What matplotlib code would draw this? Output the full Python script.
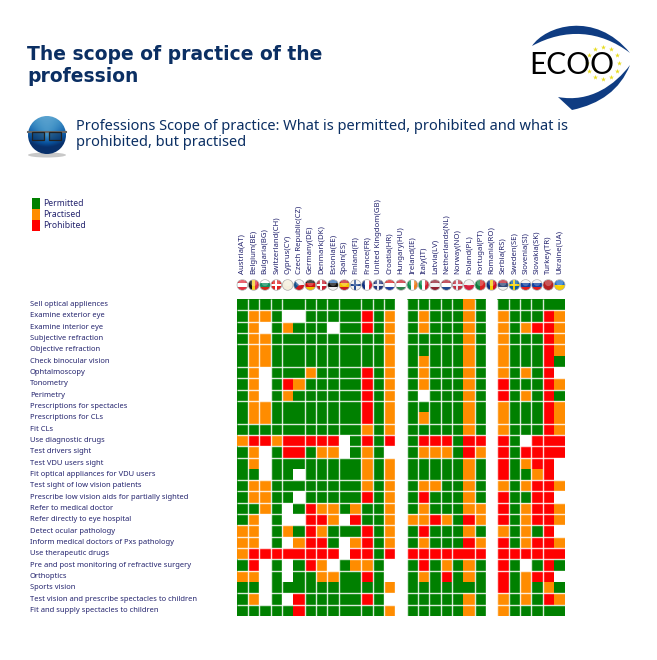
import numpy as np
import matplotlib
matplotlib.use("Agg")
import matplotlib.pyplot as plt
from matplotlib.colors import ListedColormap
from matplotlib.patches import Circle, Ellipse, Rectangle, Patch, PathPatch, Polygon
from matplotlib.path import Path

# text and values
title_lines = ["The scope of practice of the", "profession"]
subtitle_lines = ["Professions Scope of practice: What is permitted, prohibited and what is",
                  "prohibited, but practised"]
status_names = ["Permitted", "Practised", "Prohibited"]
status_colors = ["#008000", "#FF8C00", "#FF0000"]

countries = ["Austria(AT)", "Belgium(BE)", "Bulgaria(BG)", "Switzerland(CH)", "Cyprus(CY)",
             "Czech Republic(CZ)", "Germany(DE)", "Denmark(DK)", "Estonia(EE)", "Spain(ES)",
             "Finland(FI)", "France(FR)", "United Kingdom(GB)", "Croatia(HR)", "Hungary(HU)",
             "Ireland(IE)", "Italy(IT)", "Latvia(LV)", "Netherlands(NL)", "Norway(NO)",
             "Poland(PL)", "Portugal(PT)", "Romania(RO)", "Serbia(RS)", "Sweden(SE)",
             "Slovenia(SI)", "Slovakia(SK)", "Turkey(TR)", "Ukraine(UA)"]

tasks = ["Sell optical appliences", "Examine exterior eye", "Examine interior eye",
         "Subjective refraction", "Objective refraction", "Check binocular vision",
         "Ophtalmoscopy", "Tonometry", "Perimetry", "Prescriptions for spectacles",
         "Prescriptions for CLs", "Fit CLs", "Use diagnostic drugs", "Test drivers sight",
         "Test VDU users sight", "Fit optical appliances for VDU users",
         "Test sight of low vision patients", "Prescribe low vision aids for partially sighted",
         "Refer to medical doctor", "Refer directly to eye hospital", "Detect ocular pathology",
         "Inform medical doctors of Pxs pathology", "Use therapeutic drugs",
         "Pre and post monitoring of refractive surgery", "Orthoptics", "Sports vision",
         "Test vision and prescribe spectacles to children", "Fit and supply spectacles to children"]

# G permitted, O practised, R prohibited, . no answer; one string per task, one letter per country
scope_rows = ["GGGGGGGGGGGGGG.GGGGGOG.GGGGGG",
              "GOOG..GGGGGRGO.GOGGGOG.OGGGRO",
              "GO.GOGGG.GGRGO.GOGGGOG.OGORRO",
              "GOOGGGGGGGGGGO.GGGGGOG.OGGGRO",
              "GOOGGGGGGGGGGO.GGGGGOG.OGGGRO",
              "GOOGGGGGGGGGGO.GOGGGOG.OGGGRG",
              "GO.GGGOGGGGRGO.GOGGGOG.OGOGR.",
              "GO.GROGGGGGRGO.GOGGGOG.RGGGRO",
              "GO.GOGGGGGGRGO.G.GGGOG.RGOGRG",
              "GOOGGGGGGGGRGO.GGGGGOG.OGGGRO",
              "GOOGGGGGGGGRGO.GOGGGOG.OGGGRO",
              "GGGGGGGGGGGOGO.GGGGGOG.OGGGRO",
              "ORRORRRRR.GRGR.GRRRGRR.RG.RRR",
              "GO.GRRGOO.GOG..GOOOGRO.RGRRRR",
              "GO.GGGGGGGGOGO.GGGGGOG.RGORR.",
              "GG.GG.GGGGGOGO.GGGGGOG.RGGOR.",
              "GOOGGGGGGGGOGO.GOOGGOG.OGORRO",
              "GOOGG.GGGGGRGO.GRGGGOG.RGGRR.",
              "GGOG.GROOGOGGO.GOGGGOO.RGORRO",
              "GO.G..RRO.RGGO.OOROGRO.RGORRO",
              "OO.GOGROGGGRGO.GRGGGOG.OGOGR.",
              "OO.G.ORRG.ORGO.GOGGGRO.RGORRO",
              "ORRRRRRRR.RRGR.RRRRRRR.RRRRRR",
              "GR.G.GRO.GOOG..GRGOGOG.RG.GRG",
              "OO.G.GGOOGGRG..GOGRGOG.RGORR.",
              "GG.GGGGGGGGGGO.GGGGGGG.RGOGOG",
              "GO.G.RGGGGGRG..GGGGGOG.OGOGRO",
              "GGGGGRGGGGGGGO.GGGGGOG.OGGGGG"]

# flags: stripe direction, stripe colours, cross colour
flag_dirs = "hvhhhhhhhhhvhhhvvhhhhvvhhhhhh"
flag_stripes = [["#E03040", "#FFFFFF", "#E03040"], ["#111111", "#F5D020", "#E03040"],
                ["#FFFFFF", "#109060", "#D02818"], ["#E02020"], ["#F4EEDC"],
                ["#F0F0F0", "#D01820"], ["#111111", "#D01010", "#F0C000"], ["#C82030"],
                ["#3070B8", "#111111", "#F0F0F0"], ["#C81820", "#F5C000", "#C81820"],
                ["#F0F0F0"], ["#103080", "#FFFFFF", "#E02030"], ["#24387C"],
                ["#D82020", "#FFFFFF", "#2040A0"], ["#C82030", "#FFFFFF", "#308050"],
                ["#109050", "#FFFFFF", "#F08020"], ["#109050", "#FFFFFF", "#D02030"],
                ["#902030", "#F0F0F0", "#902030"], ["#B02030", "#FFFFFF", "#204890"],
                ["#C03040"], ["#F0F0F0", "#D82040"], ["#108040", "#D82020"],
                ["#103080", "#F5D000", "#D01020"], ["#C02030", "#304878", "#F0F0F0"],
                ["#1060A0"], ["#F0F0F0", "#1040A0", "#E02020"], ["#F0F0F0", "#1040A0", "#E02020"],
                ["#B82020"], ["#2070C8", "#F8D000"]]
flag_cross = {3: "#FFFFFF", 7: "#FFFFFF", 10: "#204890", 12: "#E8E8F0", 19: "#E8E8F0", 24: "#F5D000"}

navy = "#0B2F63"
label_color = "#24246E"

fig = plt.figure(figsize=(6.57, 6.60), dpi=100)

# page axes in image pixels, for the header, the icon and the logo
page = fig.add_axes([0, 0, 1, 1])
page.axis("off")

page.text(27, 54, title_lines[0], fontsize=13.5, fontweight="bold", color=navy, family="DejaVu Sans", va="center")
page.text(27, 77, title_lines[1], fontsize=13.5, fontweight="bold", color=navy, family="DejaVu Sans", va="center")
page.text(76, 127, subtitle_lines[0], fontsize=10.5, color=navy, family="Noto Sans", va="center")
page.text(76, 142, subtitle_lines[1], fontsize=10.5, color=navy, family="Noto Sans", va="center")

# globe icon with spectacles
page.add_patch(Ellipse((47, 155), 38, 5, color="#C8C8C8", lw=0))
globe = Circle((47, 135), 19, transform=page.transData)
yy, xx = np.mgrid[-1:1:60j, -1:1:60j]
shade = 0.3 + 0.65 * (yy + 1) / 2 + 0.25 * np.hypot(xx, yy)
im = page.imshow(shade, extent=(28, 66, 154, 116), cmap="Blues", vmin=0, vmax=1, aspect="auto", zorder=2)
im.set_clip_path(globe)
page.plot([28, 66], [132, 132], color="#666666", lw=1.5, zorder=3)
page.add_patch(Rectangle((32, 132), 12, 8, fc="#10284870", ec="#222222", lw=0.9, zorder=3))
page.add_patch(Rectangle((49, 132), 12, 8, fc="#10284870", ec="#222222", lw=0.9, zorder=3))

# ECOO logo, two swooshes round the name and a ring of stars
blue = "#0F3C82"
top_swoosh = Path([(532, 46), (545, 26), (595, 10), (630, 53), (600, 30), (565, 28), (532, 46)],
                  [Path.MOVETO, Path.CURVE4, Path.CURVE4, Path.CURVE4, Path.CURVE4, Path.CURVE4, Path.CURVE4])
low_swoosh = Path([(558, 97), (590, 103), (615, 85), (630, 65), (620, 90), (600, 104), (572, 110), (558, 97)],
                  [Path.MOVETO, Path.CURVE4, Path.CURVE4, Path.CURVE4, Path.CURVE4, Path.CURVE4, Path.CURVE4, Path.CLOSEPOLY])
page.add_patch(PathPatch(top_swoosh, fc=blue, lw=0))
page.add_patch(PathPatch(low_swoosh, fc=blue, lw=0))
star_angles = np.deg2rad(np.arange(0, 360, 30))
page.scatter(603 + 16 * np.cos(star_angles), 63 + 16 * np.sin(star_angles), marker="*", s=14,
             color="#E8DC20", lw=0, zorder=3)
page.text(572, 65, "ECOO", fontsize=21.5, color="black", family="Lato", ha="center", va="center", zorder=4)

page.set_xlim(0, 657)
page.set_ylim(660, 0)

# legend
handles = [Patch(facecolor=c, edgecolor="none", label=n) for c, n in zip(status_colors, status_names)]
fig.legend(handles=handles, loc="upper left", bbox_to_anchor=(32 / 657, 1 - 198 / 660), frameon=False,
           borderpad=0, borderaxespad=0, labelspacing=0.0, handlelength=0.95,
           handleheight=1.6, handletextpad=0.3, labelcolor=label_color, prop={"family": "Noto Sans", "size": 6.2})

# the grid itself
code = {"G": 0, "O": 1, "R": 2, ".": np.nan}
scope = np.array([[code[c] for c in row] for row in scope_rows])
n_rows, n_cols = scope.shape

ax = fig.add_axes([236.7 / 657, 1 - 616 / 660, 328.6 / 657, 317 / 660])
ax.pcolormesh(np.arange(n_cols + 1), np.arange(n_rows + 1), np.ma.masked_invalid(scope),
              cmap=ListedColormap(status_colors), vmin=-0.5, vmax=2.5)
ax.set_xlim(0, n_cols)
ax.set_ylim(n_rows, 0)
for s in ax.spines.values():
    s.set_visible(False)

# separators; the slide has some columns and rows merged
merged_cols = [5, 10, 20, 28]
merged_rows = [5, 10, 15, 25]
ax.vlines([i for i in range(1, n_cols) if i not in merged_cols], 0, n_rows, color="#FFFFFF", lw=1.0, alpha=0.85)
ax.hlines([i for i in range(1, n_rows) if i not in merged_rows], 0, n_cols, color="#FFFFFF", lw=1.0, alpha=0.85)

ax.xaxis.tick_top()
ax.set_xticks(np.arange(n_cols) + 0.5)
ax.set_xticklabels(countries, rotation=90, ha="center", va="bottom", fontsize=5.6, color=label_color,
                   family="Noto Sans")
ax.set_yticks(np.arange(n_rows) + 0.5)
ax.set_yticklabels(tasks, ha="left", va="center", fontsize=5.45, color=label_color, family="Noto Sans")
ax.tick_params(axis="x", length=0, pad=18)
ax.tick_params(axis="y", length=0, pad=149)


def add_clipped(patch, disc):
    ax.add_patch(patch)
    patch.set_clip_box(None)
    patch.set_clip_path(disc)


# round flags above the columns
for i, (d, colors) in enumerate(zip(flag_dirs, flag_stripes)):
    cx, cy, r = i + 0.5, -1.24, 0.47
    disc = Circle((cx, cy), r, transform=ax.transData)
    w = 2 * r / len(colors)
    for k, c in enumerate(colors):
        if d == "h":
            add_clipped(Rectangle((cx - r, cy - r + k * w), 2 * r, w, fc=c, lw=0), disc)
        else:
            add_clipped(Rectangle((cx - r + k * w, cy - r), w, 2 * r, fc=c, lw=0), disc)
    if i in flag_cross:
        add_clipped(Rectangle((cx - r, cy - 0.09), 2 * r, 0.18, fc=flag_cross[i], lw=0), disc)
        add_clipped(Rectangle((cx - 0.12, cy - r), 0.18, 2 * r, fc=flag_cross[i], lw=0), disc)
    if i == 5:
        add_clipped(Polygon([(cx - r, cy - r), (cx, cy), (cx - r, cy + r)], fc="#15508C", lw=0), disc)
    ax.add_patch(Circle((cx, cy), r, fc="none", ec="#A8A8A8", lw=0.5, clip_on=False))
    ax.add_patch(Circle((cx, cy - 0.2), 0.3, fc="#FFFFFF", alpha=0.25, lw=0, clip_on=False))

fig.savefig("out.png", dpi=100)
